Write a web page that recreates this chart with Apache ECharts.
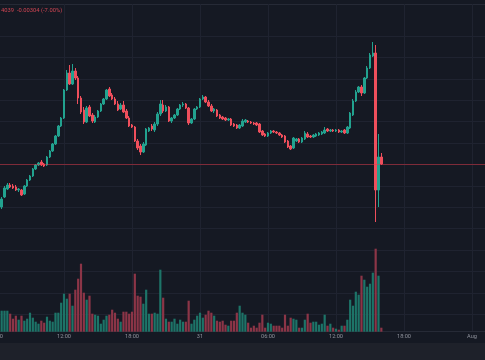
<!DOCTYPE html>
<html><head><meta charset="utf-8">
<script src="https://cdn.jsdelivr.net/npm/echarts@6/dist/echarts.min.js"></script>
<style>html,body{margin:0;padding:0;background:#151923;}#c{width:485px;height:360px;}</style>
</head><body><div id="c"></div>
<script>
// 15-minute candles, first category = 30 Jul 06:00 (UTC)
const startTime = Date.UTC(2024, 6, 30, 6, 0);
const slotCount = 176;
const leadBlank = 2; // first two slots have no data in view

const openP = [
0.03938,0.03958,0.03974,0.03982,0.03980,0.03978,0.03972,0.03972,0.03964,0.03980,
0.03992,0.04000,0.04014,0.04022,0.04028,0.04024,0.04022,0.04038,0.04050,0.04064,
0.04080,0.04100,0.04116,0.04172,0.04206,0.04184,0.04210,0.04196,0.04156,0.04132,
0.04108,0.04138,0.04122,0.04108,0.04118,0.04130,0.04144,0.04154,0.04174,0.04162,
0.04154,0.04144,0.04134,0.04142,0.04130,0.04116,0.04102,0.04098,0.04070,0.04060,
0.04048,0.04062,0.04090,0.04100,0.04092,0.04104,0.04124,0.04142,0.04130,0.04138,
0.04110,0.04116,0.04122,0.04134,0.04142,0.04144,0.04136,0.04106,0.04114,0.04134,
0.04138,0.04154,0.04158,0.04148,0.04140,0.04130,0.04132,0.04122,0.04118,0.04116,
0.04112,0.04114,0.04104,0.04102,0.04096,0.04100,0.04108,0.04110,0.04108,0.04106,
0.04106,0.04104,0.04090,0.04084,0.04080,0.04086,0.04090,0.04088,0.04086,0.04082,
0.04080,0.04070,0.04060,0.04056,0.04070,0.04074,0.04068,0.04074,0.04084,0.04080,
0.04078,0.04080,0.04082,0.04084,0.04086,0.04094,0.04090,0.04092,0.04090,0.04092,
0.04088,0.04092,0.04086,0.04096,0.04122,0.04150,0.04168,0.04178,0.04166,0.04196,
0.04216,0.04240,0.04246,0.03972,0.04038];
const closeP = [
0.03954,0.03976,0.03982,0.03978,0.03976,0.03972,0.03974,0.03962,0.03980,0.03992,
0.04000,0.04014,0.04022,0.04026,0.04022,0.04020,0.04038,0.04050,0.04064,0.04080,
0.04100,0.04116,0.04172,0.04206,0.04184,0.04210,0.04196,0.04156,0.04128,0.04108,
0.04136,0.04120,0.04110,0.04118,0.04130,0.04144,0.04154,0.04172,0.04160,0.04154,
0.04144,0.04132,0.04142,0.04128,0.04116,0.04100,0.04098,0.04070,0.04056,0.04048,
0.04064,0.04094,0.04096,0.04094,0.04104,0.04124,0.04144,0.04130,0.04138,0.04110,
0.04116,0.04122,0.04134,0.04142,0.04144,0.04136,0.04106,0.04114,0.04134,0.04138,
0.04154,0.04158,0.04148,0.04140,0.04130,0.04134,0.04120,0.04116,0.04114,0.04112,
0.04114,0.04102,0.04100,0.04096,0.04102,0.04110,0.04112,0.04108,0.04106,0.04104,
0.04102,0.04088,0.04082,0.04080,0.04086,0.04090,0.04088,0.04086,0.04082,0.04078,
0.04068,0.04058,0.04054,0.04076,0.04074,0.04068,0.04076,0.04086,0.04078,0.04078,
0.04082,0.04084,0.04086,0.04088,0.04092,0.04090,0.04092,0.04090,0.04092,0.04088,
0.04090,0.04086,0.04098,0.04126,0.04150,0.04168,0.04178,0.04166,0.04196,0.04216,
0.04242,0.04246,0.03972,0.04038,0.04024];
const lowP = [
0.03934,0.03956,0.03972,0.03976,0.03974,0.03970,0.03968,0.03960,0.03962,0.03978,
0.03990,0.03998,0.04012,0.04020,0.04020,0.04018,0.04020,0.04036,0.04048,0.04062,
0.04078,0.04098,0.04114,0.04170,0.04182,0.04182,0.04192,0.04144,0.04124,0.04104,
0.04106,0.04118,0.04106,0.04106,0.04116,0.04128,0.04142,0.04152,0.04158,0.04152,
0.04142,0.04130,0.04132,0.04126,0.04114,0.04098,0.04096,0.04068,0.04052,0.04042,
0.04046,0.04060,0.04088,0.04090,0.04088,0.04100,0.04120,0.04126,0.04128,0.04108,
0.04106,0.04114,0.04120,0.04132,0.04138,0.04134,0.04102,0.04104,0.04112,0.04132,
0.04136,0.04152,0.04146,0.04138,0.04128,0.04126,0.04118,0.04114,0.04112,0.04110,
0.04110,0.04100,0.04098,0.04094,0.04094,0.04098,0.04106,0.04106,0.04104,0.04102,
0.04100,0.04086,0.04080,0.04078,0.04078,0.04084,0.04086,0.04084,0.04080,0.04076,
0.04066,0.04056,0.04052,0.04054,0.04068,0.04066,0.04066,0.04072,0.04076,0.04076,
0.04076,0.04078,0.04080,0.04082,0.04084,0.04088,0.04088,0.04088,0.04088,0.04086,
0.04086,0.04084,0.04084,0.04094,0.04120,0.04148,0.04166,0.04160,0.04164,0.04194,
0.04214,0.04238,0.03908,0.03938,0.04022];
const highP = [
0.03958,0.03980,0.03986,0.03986,0.03984,0.03982,0.03976,0.03974,0.03982,0.03994,
0.04002,0.04016,0.04024,0.04028,0.04032,0.04026,0.04040,0.04052,0.04066,0.04082,
0.04102,0.04118,0.04174,0.04212,0.04222,0.04224,0.04216,0.04200,0.04160,0.04138,
0.04140,0.04142,0.04126,0.04122,0.04132,0.04146,0.04156,0.04174,0.04178,0.04166,
0.04158,0.04150,0.04146,0.04150,0.04134,0.04120,0.04104,0.04100,0.04074,0.04064,
0.04068,0.04096,0.04098,0.04104,0.04108,0.04128,0.04152,0.04152,0.04142,0.04140,
0.04118,0.04124,0.04136,0.04144,0.04148,0.04146,0.04138,0.04116,0.04136,0.04140,
0.04156,0.04162,0.04160,0.04152,0.04144,0.04136,0.04134,0.04124,0.04120,0.04118,
0.04116,0.04116,0.04106,0.04104,0.04104,0.04114,0.04114,0.04112,0.04110,0.04108,
0.04108,0.04106,0.04092,0.04086,0.04088,0.04092,0.04092,0.04090,0.04088,0.04084,
0.04082,0.04072,0.04062,0.04078,0.04076,0.04076,0.04078,0.04090,0.04088,0.04082,
0.04084,0.04086,0.04088,0.04090,0.04098,0.04096,0.04094,0.04094,0.04094,0.04094,
0.04092,0.04094,0.04100,0.04128,0.04154,0.04172,0.04180,0.04182,0.04198,0.04220,
0.04246,0.04268,0.04262,0.04084,0.04046];
const volume = [
21,21,21,18,13,16,12,16,11,13,
19,14,10,8,11,9,15,11,10,19,
19,29,38,33,38,26,42,53,68,39,
32,36,18,17,16,8,12,16,17,22,
19,13,10,20,20,18,20,58,36,35,
28,42,18,18,19,18,62,34,13,10,
10,13,8,12,10,10,31,8,12,16,
19,14,17,21,19,16,11,10,11,7,
6,11,11,19,26,19,17,9,4,6,
4,9,17,4,9,8,6,6,6,4,
17,6,14,13,12,4,4,12,18,9,
10,10,7,8,17,6,8,4,3,2,
6,6,12,32,26,40,37,56,52,45,
48,59,83,56,4];
const headerText = '4039  -0.00304 (-7.00%)';
const monthNames = ['Jan','Feb','Mar','Apr','May','Jun','Jul','Aug','Sep','Oct','Nov','Dec'];

const categories = [];
for (let k = 0; k < slotCount; k++) categories.push(String(startTime + k * 15 * 60000));

const candleData = [];
const volData = [];
for (let k = 0; k < leadBlank; k++) { candleData.push(['-','-','-','-']); volData.push('-'); }
for (let j = 0; j < openP.length; j++) {
  candleData.push([openP[j], closeP[j], lowP[j], highP[j]]);
  volData.push({ value: volume[j], itemStyle: { color: closeP[j] >= openP[j] ? '#1d7468' : '#8c3547' } });
}

const UP = '#22a28f', DOWN = '#ef4f5c';
const GRIDC = '#1f2330';
const LABELC = '#8e919b';
const step = 2.8333;
const gridLeft = -4;
const gridWidth = (slotCount - 1) * step;

function fmt(v) {
  const d = new Date(Number(v));
  const h = d.getUTCHours(), m = d.getUTCMinutes();
  if (h === 0 && m === 0) return d.getUTCDate() === 1 ? monthNames[d.getUTCMonth()] : String(d.getUTCDate());
  return (h < 10 ? '0' : '') + h + ':' + (m < 10 ? '0' : '') + m;
}

const chart = echarts.init(document.getElementById('c'), null, { renderer: 'canvas' });
chart.setOption({
  backgroundColor: '#151923',
  animation: false,
  graphic: [
    { type: 'rect', left: 0, top: 343, shape: { width: 485, height: 17 }, style: { fill: '#1e212a' }, z: 0 },
    { type: 'line', shape: { x1: 0, y1: 4.5, x2: 485, y2: 4.5 }, style: { stroke: '#262a36', lineWidth: 1 }, z: 0 },
    { type: 'text', left: 1, top: 8, style: { text: headerText, fill: '#cf4553', font: '5.8px Roboto' }, z: 10 },
    // first time label sits half outside the canvas (clipped at left edge)
    { type: 'text', x: gridLeft, y: 333.7, style: { text: fmt(categories[0]), fill: LABELC, font: '5.6px Roboto', align: 'center', verticalAlign: 'top' }, z: 10 }
  ],
  grid: [
    { left: gridLeft, width: gridWidth, top: 20, height: 315.6, outerBoundsMode: 'none', containLabel: false },
    { left: gridLeft, width: gridWidth, top: 4, height: 327.7, outerBoundsMode: 'none', containLabel: false }
  ],
  xAxis: [
    { type: 'category', gridIndex: 0, data: categories, boundaryGap: false, show: false },
    { type: 'category', gridIndex: 1, data: categories, boundaryGap: false,
      axisLine: { show: true, lineStyle: { color: '#262a36', width: 1 } },
      axisTick: { show: false },
      axisLabel: { interval: 23, formatter: fmt, color: LABELC, fontSize: 5.6, fontFamily: 'Roboto', margin: 2,
        showMinLabel: false },
      splitLine: { show: true, interval: 23, lineStyle: { color: GRIDC, width: 1 } } }
  ],
  yAxis: [
    { type: 'value', gridIndex: 0, min: 0.036808, max: 0.04312, interval: 0.000428,
      axisLabel: { show: false }, axisLine: { show: false }, axisTick: { show: false },
      splitLine: { show: true, showMinLine: false, showMaxLine: false, lineStyle: { color: GRIDC, width: 1 } } },
    { type: 'value', gridIndex: 1, min: 0, max: 327.7, show: false, splitLine: { show: false } }
  ],
  series: [
    { type: 'bar', xAxisIndex: 1, yAxisIndex: 1, data: volData, barWidth: 2.2, silent: true, z: 1 },
    { type: 'candlestick', xAxisIndex: 0, yAxisIndex: 0, data: candleData, barWidth: 2, silent: true, z: 3,
      itemStyle: { color: UP, color0: DOWN, borderColor: UP, borderColor0: DOWN, borderWidth: 1 },
      markLine: { symbol: 'none', silent: true, precision: 6, label: { show: false },
        lineStyle: { color: 'rgba(242,54,69,0.45)', width: 1, type: 'solid' },
        data: [{ yAxis: closeP[closeP.length - 1] }] } }
  ]
});
</script></body></html>
